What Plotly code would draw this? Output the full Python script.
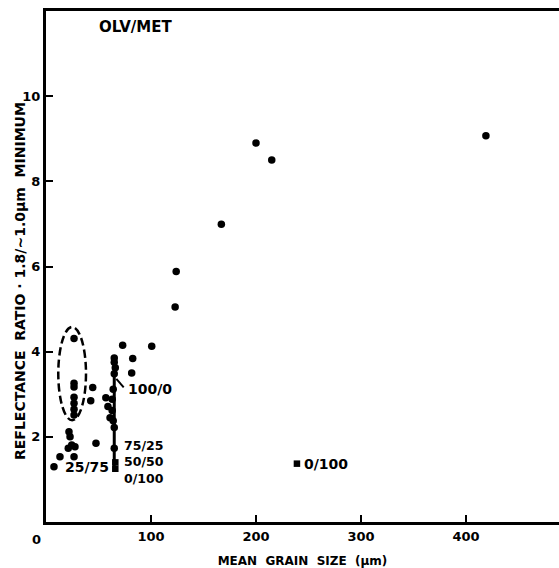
import plotly.graph_objects as go

# Olivine / metal mixtures: mean grain size (um) vs. band ratio
grain_size = [419, 200, 215, 167, 124, 123,
              26.7, 26.7, 26.7, 26.7, 26.7, 26.7, 26.7,
              44.5, 42.6, 21.9, 22.9, 24.5, 27.6, 21.2, 13.3, 26.7, 7.6, 47.6,
              73.0, 100.7, 82.6, 81.6,
              65, 65, 66, 65, 64, 57, 63, 59, 63, 61, 64, 65, 65]
ratio = [9.07, 8.90, 8.50, 6.99, 5.88, 5.05,
         4.31, 3.26, 3.17, 2.93, 2.79, 2.65, 2.51,
         3.16, 2.85, 2.12, 2.00, 1.81, 1.77, 1.73, 1.53, 1.53, 1.30, 1.85,
         4.15, 4.13, 3.84, 3.50,
         3.85, 3.75, 3.62, 3.48, 3.12, 2.92, 2.88, 2.71, 2.62, 2.45, 2.38, 2.22, 1.73]

# Mixture end members shown as squares
mix_size = [66, 66, 239]
mix_ratio = [1.40, 1.25, 1.37]

# Mixture labels: (text, grain size, ratio)
mix_labels = [("100/0", 76.2, 3.12),
              ("75/25<br>50/50<br>0/100", 72.4, 1.41),
              ("25/75", 16.2, 1.29),
              ("0/100", 243.5, 1.36)]

# Mixing line at constant grain size and its leader to the 100/0 label
mix_line_size = 65
mix_line_ratio = [1.19, 3.88]
leader_size = [67, 74]
leader_ratio = [3.36, 3.16]

# Dashed envelope around the fine-grained group
group_size = [11.7, 38.1]
group_ratio = [2.39, 4.58]

x_ticks = [100, 200, 300, 400]
y_ticks = [2, 4, 6, 8, 10]

FONT = "DejaVu Sans"

fig = go.Figure()
fig.add_trace(go.Scatter(x=grain_size, y=ratio, mode="markers",
                         marker=dict(color="black", size=7.5), showlegend=False))
fig.add_trace(go.Scatter(x=mix_size, y=mix_ratio, mode="markers",
                         marker=dict(color="black", size=6.5, symbol="square"),
                         showlegend=False))

fig.add_shape(type="line", x0=mix_line_size, x1=mix_line_size,
              y0=mix_line_ratio[0], y1=mix_line_ratio[1],
              line=dict(color="black", width=3))
fig.add_shape(type="line", x0=leader_size[0], x1=leader_size[1],
              y0=leader_ratio[0], y1=leader_ratio[1],
              line=dict(color="black", width=2))
fig.add_shape(type="circle", x0=group_size[0], x1=group_size[1],
              y0=group_ratio[0], y1=group_ratio[1],
              line=dict(color="black", width=2.5, dash="8px,4px"))

for text, gx, gy in mix_labels:
    fig.add_annotation(x=gx, y=gy, text=text, showarrow=False, xanchor="left",
                       yanchor="middle", align="left",
                       font=dict(family=FONT, size=14 if "<br>" not in text else 12.5,
                                 color="black", weight="bold"))

fig.add_annotation(x=85.7, y=11.62, text="OLV/MET", showarrow=False,
                   font=dict(family=FONT, size=15, color="black", weight="bold"))

# origin label, set left of the axis corner
fig.add_annotation(x=0, y=0, text="0", showarrow=False, xanchor="right", yanchor="top",
                   xshift=-3, yshift=-8,
                   font=dict(family=FONT, size=13, color="black", weight="bold"))

# y axis title, placed a little below the plot's centre
fig.add_annotation(x=0, xref="paper", y=(522 - 281) / 511, yref="paper",
                   xanchor="center", yanchor="middle", xshift=-26, textangle=-90,
                   text="REFLECTANCE  RATIO · 1.8/~1.0μm  MINIMUM", showarrow=False,
                   font=dict(family=FONT, size=14, color="black", weight="bold"))

fig.update_layout(
    width=559, height=568,
    margin=dict(l=46, r=0, t=11, b=46),
    paper_bgcolor="white", plot_bgcolor="white",
    showlegend=False,
    xaxis=dict(range=[0, 488.6], tickvals=x_ticks, ticks="inside", ticklen=7,
               tickwidth=2, tickcolor="black", showline=True, linecolor="black",
               linewidth=3, mirror=True, showgrid=False, zeroline=False,
               tickfont=dict(family=FONT, size=13, color="black", weight="bold"),
               title=dict(text="MEAN  GRAIN  SIZE  (μm)", standoff=16,
                          font=dict(family=FONT, size=12, color="black", weight="bold"))),
    yaxis=dict(range=[0, 12], tickvals=y_ticks, ticks="inside", ticklen=7,
               tickwidth=2, tickcolor="black", showline=True, linecolor="black",
               linewidth=3, showgrid=False, zeroline=False,
               tickfont=dict(family=FONT, size=13, color="black", weight="bold")),
)

fig.write_html("out.html")
